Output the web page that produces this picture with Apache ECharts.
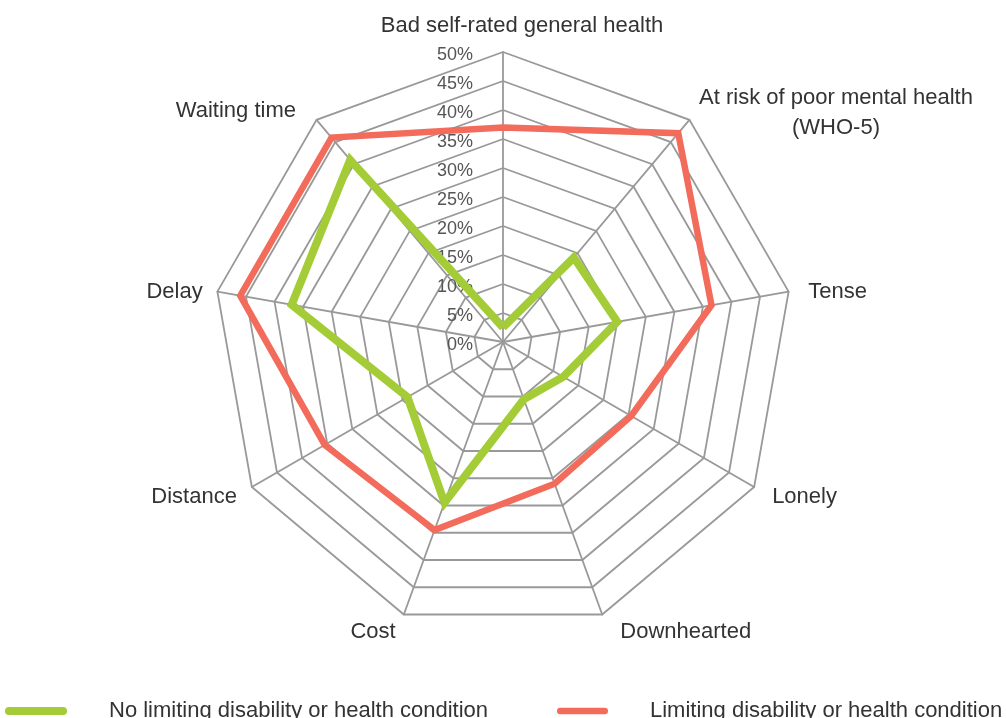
<!DOCTYPE html>
<html>
<head>
<meta charset="utf-8">
<script src="https://cdn.jsdelivr.net/npm/echarts@6/dist/echarts.min.js"></script>
<style>
html,body{margin:0;padding:0;background:#fff;}
#chart{width:1006px;height:718px;}
</style>
</head>
<body>
<div id="chart"></div>
<script>
// Indicators in clockwise order starting from the top
var categories = [
  'Bad self-rated general health',
  'At risk of poor mental health\n(WHO-5)',
  'Tense',
  'Lonely',
  'Downhearted',
  'Cost',
  'Distance',
  'Delay',
  'Waiting time'
];
var seriesNames = ['No limiting disability or health condition', 'Limiting disability or health condition'];
var noLimiting = [2.5, 19, 20, 12, 10.5, 29.5, 19, 37, 41];
var limiting   = [37, 47, 36.5, 25.5, 26, 34.5, 35.5, 46, 46];
var axisMax = 50;
var tickLabels = ['0%','5%','10%','15%','20%','25%','30%','35%','40%','45%','50%'];

// ECharts radar runs counter-clockwise: reorder so the picture runs clockwise
function cw(arr){ return [arr[0]].concat(arr.slice(1).reverse()); }

var FONT = 'Liberation Sans';
var TXT = '#333';
function rs(pad, extra){
  var o = {fontFamily: FONT, fontSize: 22, color: TXT, padding: pad};
  if (extra) for (var k in extra) o[k] = extra[k];
  return o;
}
var nameRich = {
  top: rs([0,0,0,38]),
  ar1: rs([10,0,0,0], {align: 'center', lineHeight: 30}),
  ar2: rs([10,0,0,0], {align: 'center', lineHeight: 30}),
  te: rs([6,0,0,5]),
  lo: rs([4,0,0,5]),
  dh: rs([6,0,0,13]),
  co: rs([6,3,0,0]),
  di: rs([4,2,0,0]),
  de: rs([6,0,0,0]),
  wt: rs([6,11,0,0])
};
var nameKey = ['top', null, 'te', 'lo', 'dh', 'co', 'di', 'de', 'wt'];
function fmtName(name){
  var i = categories.indexOf(name);
  if (i === 1) {
    var parts = name.split('\n');
    return '{ar1|' + parts[0] + '}\n{ar2|' + parts[1] + '}';
  }
  return '{' + nameKey[i] + '|' + name + '}';
}

var indicators = cw(categories).map(function(c, i){
  var o = {name: c, max: axisMax, min: 0};
  if (i === 0) {
    o.axisLabel = {
      show: true,
      margin: 30,
      fontFamily: FONT,
      fontSize: 18,
      color: '#555',
      formatter: function(v){ return '{t|' + tickLabels[Math.round(v / 5)] + '}'; },
      rich: {t: {fontFamily: FONT, fontSize: 18, color: '#555', padding: [6, 0, 0, 0]}}
    };
  }
  return o;
});

var legendIcon = 'path://M4,0 L58,0 A4,4 0 0 1 58,8 L4,8 A4,4 0 0 1 4,0 Z';
var chart = echarts.init(document.getElementById('chart'), null, {renderer: 'canvas'});
chart.setOption({
  backgroundColor: '#fff',
  animation: false,
  legend: [{
    left: 0, top: 695,
    data: [seriesNames[0]],
    icon: legendIcon,
    itemWidth: 62, itemHeight: 8,
    textStyle: {fontFamily: FONT, fontSize: 22, color: TXT, padding: [0,0,0,37]},
    selectedMode: false
  }, {
    left: 552, top: 695,
    data: [seriesNames[1]],
    icon: legendIcon,
    itemWidth: 51, itemHeight: 8,
    textStyle: {fontFamily: FONT, fontSize: 22, color: TXT, padding: [0,0,0,37]},
    selectedMode: false
  }],
  radar: {
    center: [503, 342],
    radius: 290,
    startAngle: 90,
    shape: 'polygon',
    splitNumber: 10,
    indicator: indicators,
    nameGap: 15,
    axisName: {
      color: TXT,
      fontFamily: FONT,
      fontSize: 22,
      formatter: fmtName,
      rich: nameRich
    },
    axisLine: {lineStyle: {color: '#999', width: 1.8}},
    splitLine: {lineStyle: {color: '#999', width: 1.8}},
    splitArea: {show: false},
    axisTick: {show: false},
    axisLabel: {show: false}
  },
  series: [{
    type: 'radar',
    symbol: 'none',
    data: [{
      name: seriesNames[0],
      value: cw(noLimiting),
      lineStyle: {color: '#a3cc37', width: 8, join: 'miter'},
      itemStyle: {color: '#a3cc37'}
    }, {
      name: seriesNames[1],
      value: cw(limiting),
      lineStyle: {color: '#f26b5b', width: 6.5, join: 'miter'},
      itemStyle: {color: '#f26b5b'}
    }]
  }]
});
</script>
</body>
</html>
